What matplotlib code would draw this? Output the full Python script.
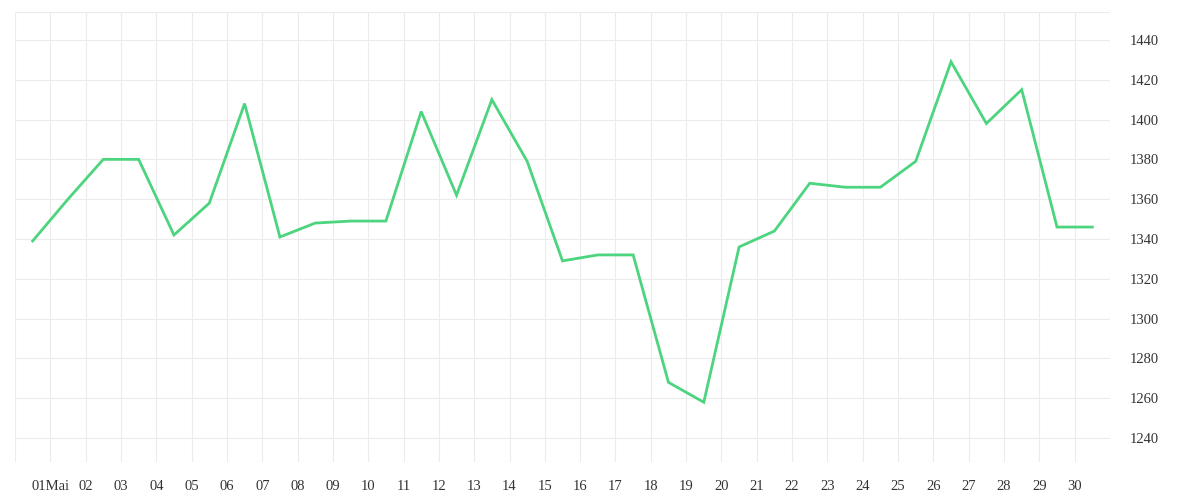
import matplotlib
matplotlib.use("Agg")
import matplotlib.pyplot as plt

days = list(range(1, 31))
day_labels = ["01Mai"] + [f"{d:02d}" for d in range(2, 31)]
values = [1339, 1360, 1380, 1380, 1342, 1358, 1408, 1341, 1348, 1349, 1349, 1404,
          1362, 1410, 1379, 1329, 1332, 1332, 1268, 1258, 1336, 1344, 1368, 1366,
          1366, 1379, 1429, 1398, 1415, 1346, 1346]
xpos = [i + 0.5 for i in range(len(values))]

plt.rcParams['font.family'] = ['Liberation Serif', 'DejaVu Serif']
fig = plt.figure(figsize=(12, 5), dpi=100)
ax = fig.add_axes([15/1200, 38/500, 1095/1200, 450/500])
ax.plot(xpos, values, color='#4cd47e', lw=2.0, solid_joinstyle='miter')
ax.set_xlim(0, 31)
ax.set_ylim(1228, 1454)
ax.set_xticks(days)
ax.set_xticklabels(day_labels)
ax.set_xticks(range(0, 32), minor=True)
ax.set_yticks(range(1240, 1441, 20))
ax.set_yticks([1228, 1454], minor=True)
ax.yaxis.tick_right()
ax.tick_params(axis='both', which='both', length=0, labelsize=10.5, colors='#333333')
ax.tick_params(axis='y', pad=14)
ax.tick_params(axis='x', pad=13)
ax.grid(True, which='both', color='#ececec', lw=0.8)
for s in ax.spines.values():
    s.set_visible(False)
fig.savefig("out.png")
